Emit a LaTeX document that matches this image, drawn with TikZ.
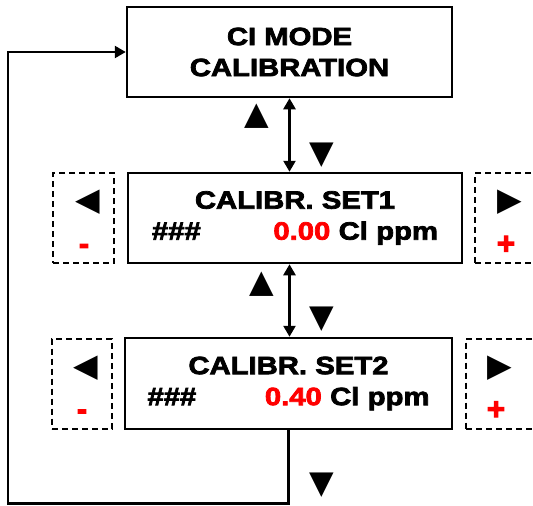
\documentclass[tikz,border=0pt]{standalone}
\usepackage{fontspec}
\setmainfont{Liberation Sans}
\newfontfamily\dispfont[FakeStretch=1.17,FakeBold=3]{Liberation Sans Bold}
\newfontfamily\signfont[FakeBold=3.5]{Liberation Sans Bold}
\newfontfamily\symfont{DejaVu Sans}
\usetikzlibrary{arrows.meta,positioning}
\definecolor{Key}{HTML}{FF0000}

\begin{document}
\begin{tikzpicture}[
  x=1pt,y=-1pt,
  screen/.style={draw,line width=2.5pt,align=center,inner sep=0pt,font=\dispfont\fontsize{25}{31}\selectfont},
  keybox/.style={draw,line width=2pt,dash pattern=on 6pt off 4pt,minimum height=90pt},
  keysym/.style={inner sep=0pt,font=\symfont\fontsize{32}{32}\selectfont},
  sign/.style={inner sep=0pt,anchor=base,text=Key,font=\signfont\fontsize{31}{31}\selectfont},
  flow/.style={-{Triangle[length=11pt,width=12pt]},line width=2.5pt},
  both/.style={{Triangle[length=11pt,width=12pt]}-{Triangle[length=11pt,width=12pt]},line width=2.5pt}
]
  \clip (0,0) rectangle (533,506);

  % menu screens
  \node[screen,minimum width=325pt,minimum height=90pt] (mode) at (289.5,52) {CI MODE\\CALIBRATION};
  \node[screen,minimum width=334pt,minimum height=90pt,text width=286pt] (set1) at (295,218)
    {CALIBR. SET1\\\#\#\#\hfill\textcolor{Key}{0.00} Cl ppm};
  \node[screen,minimum width=327pt,minimum height=91pt,text width=282pt] (set2) at (288.5,383.5)
    {CALIBR. SET2\\\#\#\#\hfill\textcolor{Key}{0.40} Cl ppm};

  % key boxes
  \node[keybox,minimum width=61pt] (minus1) at (83.5,218) {};
  \node[keybox,minimum width=68pt] (plus1) at (509,218) {};
  \node[keybox,minimum width=60pt] (minus2) at (82,383.5) {};
  \node[keybox,minimum width=68pt] (plus2) at (500,383.5) {};
  \node[keysym] (left1) at (88,202) {◀};
  \node[sign] (dec1) at (84,254) {-};
  \node[keysym] (right1) at (510,202) {▶};
  \node[sign] (inc1) at (506,254) {+};
  \node[keysym] (left2) at (86,368) {◀};
  \node[sign] (dec2) at (82,419.5) {-};
  \node[keysym] (right2) at (500,368) {▶};
  \node[sign] (inc2) at (496,419.5) {+};

  % up / down keys
  \node[keysym] (up1) at (257,116) {▲};
  \node[keysym] (down1) at (322,155) {▼};
  \node[keysym] (up2) at (262,284) {▲};
  \node[keysym] (down2) at (322,319) {▼};
  \node[keysym] (down3) at (322,485) {▼};

  % connectors
  \draw[both] (mode.south) -- (mode.south |- set1.north);
  \draw[both] (set1.south -| mode.south) -- (mode.south |- set2.north);
  \coordinate (loopbase) at (8,503.5);
  \draw[flow] (set2.south) |- (loopbase) |- (mode.west);
\end{tikzpicture}
\end{document}
